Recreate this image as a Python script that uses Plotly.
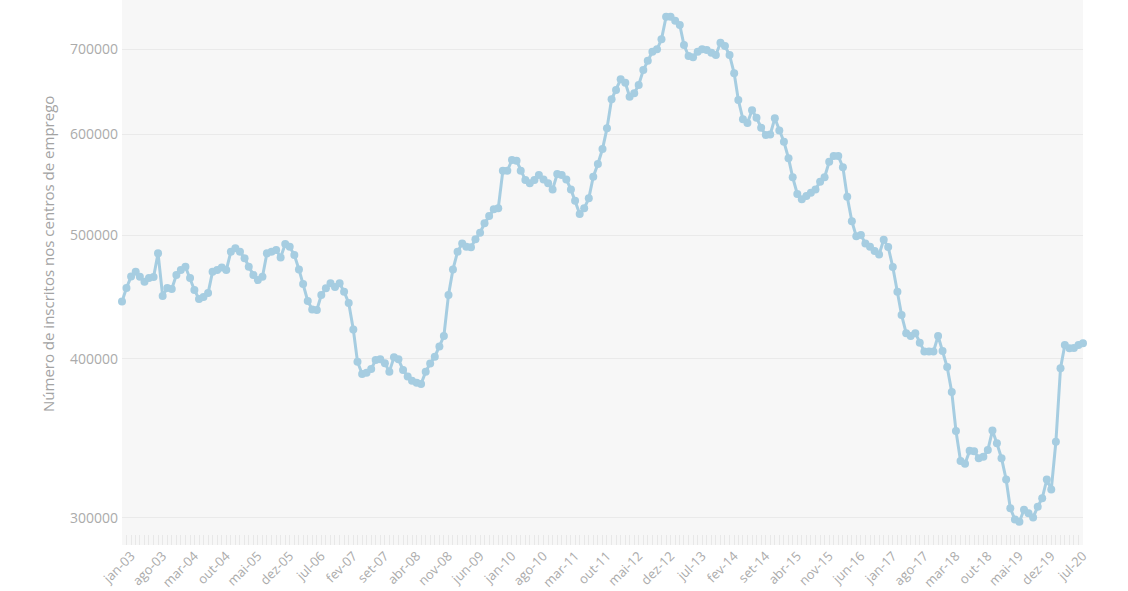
import pandas as pd
import plotly.graph_objects as go

START_MONTH = "2002-11-01"

inscritos = [
    443500, 454600, 464000, 468100, 463900, 459700, 462800, 463600, 483900, 448000,
    454500, 453700, 465300, 469500, 472300, 462800, 452900, 445600, 447200, 450400,
    468100, 469500, 471800, 469500, 485300, 488300, 485300, 479600, 472300, 465300,
    461100, 463900, 483900, 485300, 486800, 480400, 492100, 489700, 482400, 470100,
    457800, 444000, 437300, 436800, 448800, 454300, 458400, 455300, 458400, 451500,
    442400, 421700, 397900, 389200, 390100, 392700, 399100, 399600, 396800, 390800,
    401100, 399600, 392000, 387300, 384500, 383100, 382200, 390800, 396600, 401500,
    409000, 416800, 448800, 470100, 485300, 492700, 489700, 489200, 496300, 502300,
    510900, 517600, 524000, 524900, 561800, 561800, 572800, 572100, 561800, 552400,
    549200, 552400, 557500, 553100, 549200, 543200, 558500, 557500, 553100, 543200,
    532200, 519500, 524900, 534500, 555800, 568700, 584300, 606500, 639200, 650000,
    662700, 658700, 642200, 646200, 655900, 673900, 685400, 696600, 699600, 712400,
    742100, 742100, 736700, 731000, 705100, 691200, 689600, 696600, 699600, 698700,
    695300, 692500, 708000, 703800, 692500, 669900, 638400, 616500, 612400, 626600,
    618300, 607200, 599200, 599800, 617600, 604100, 592000, 574500, 555200, 538700,
    533500, 536700, 539900, 543200, 550800, 555200, 571000, 576900, 576900, 565300,
    536000, 512800, 499000, 500200, 492700, 489700, 485900, 482900, 496000, 489500,
    472100, 451500, 432900, 418900, 416800, 418900, 411800, 405200, 405200, 405200,
    416800, 405700, 394100, 376600, 351100, 332500, 330900, 338800, 338500, 334200,
    335100, 339200, 351300, 343300, 334200, 321600, 305300, 299200, 298000, 304500,
    302600, 300300, 306200, 310900, 321600, 315800, 344300, 393200, 410100, 407700,
    407900, 410100, 411400,
]

tick_labels = [
    "jan-03", "ago-03", "mar-04", "out-04", "mai-05", "dez-05", "jul-06", "fev-07",
    "set-07", "abr-08", "nov-08", "jun-09", "jan-10", "ago-10", "mar-11", "out-11",
    "mai-12", "dez-12", "jul-13", "fev-14", "set-14", "abr-15", "nov-15", "jun-16",
    "jan-17", "ago-17", "mar-18", "out-18", "mai-19", "dez-19", "jul-20",
]

y_ticks = [300000, 400000, 500000, 600000, 700000]
y_title = "Número de inscritos nos centros de emprego"

months = pd.date_range(START_MONTH, periods=len(inscritos), freq="MS")
tick_dates = pd.date_range("2003-01-01", periods=len(tick_labels), freq="7MS")

LINE_COLOR = "#a6cde1"
TEXT_COLOR = "#ababab"
FONT = "Open Sans"

fig = go.Figure()
fig.add_trace(go.Scatter(
    x=months,
    y=inscritos,
    mode="lines+markers",
    line=dict(color=LINE_COLOR, width=3),
    marker=dict(color=LINE_COLOR, size=8),
    cliponaxis=False,
    showlegend=False,
    hoverinfo="skip",
))

fig.update_layout(
    width=1128,
    height=591,
    margin=dict(l=122, r=45, t=0, b=46),
    paper_bgcolor="white",
    plot_bgcolor="#f7f7f7",
    font=dict(family=FONT, color=TEXT_COLOR),
    xaxis=dict(
        type="date",
        range=[months[0], months[-1]],
        tickvals=tick_dates,
        ticktext=tick_labels,
        tickangle=-45,
        ticks="inside",
        ticklen=10,
        tickcolor="#e8e8e8",
        tickwidth=1,
        showgrid=False,
        zeroline=False,
        showline=False,
        tickfont=dict(size=13, color=TEXT_COLOR, family=FONT),
        minor=dict(ticks="inside", ticklen=10, dtick="M1", tick0=START_MONTH,
                   tickcolor="#e8e8e8", tickwidth=1, showgrid=False),
        automargin=False,
    ),
    yaxis=dict(
        type="log",
        range=[5.45593, 5.88355],
        tickvals=y_ticks,
        ticktext=[str(v) for v in y_ticks],
        showgrid=True,
        gridcolor="#eaeaea",
        gridwidth=1,
        zeroline=False,
        showline=False,
        ticks="",
        ticklabelstandoff=3,
        tickfont=dict(size=14, color=TEXT_COLOR, family=FONT),
        automargin=False,
    ),
    annotations=[dict(
        text=y_title,
        xref="paper", yref="paper",
        x=(48 - 122) / 961, y=1 - 254 / 545,
        xanchor="center", yanchor="middle",
        textangle=-90,
        showarrow=False,
        font=dict(size=15, color="#a3a3a3", family=FONT),
    )],
)

fig.write_html(
    "out.html",
    config={"displayModeBar": False},
    post_script="document.body.style.margin='0px';document.body.style.overflow='hidden';",
)
